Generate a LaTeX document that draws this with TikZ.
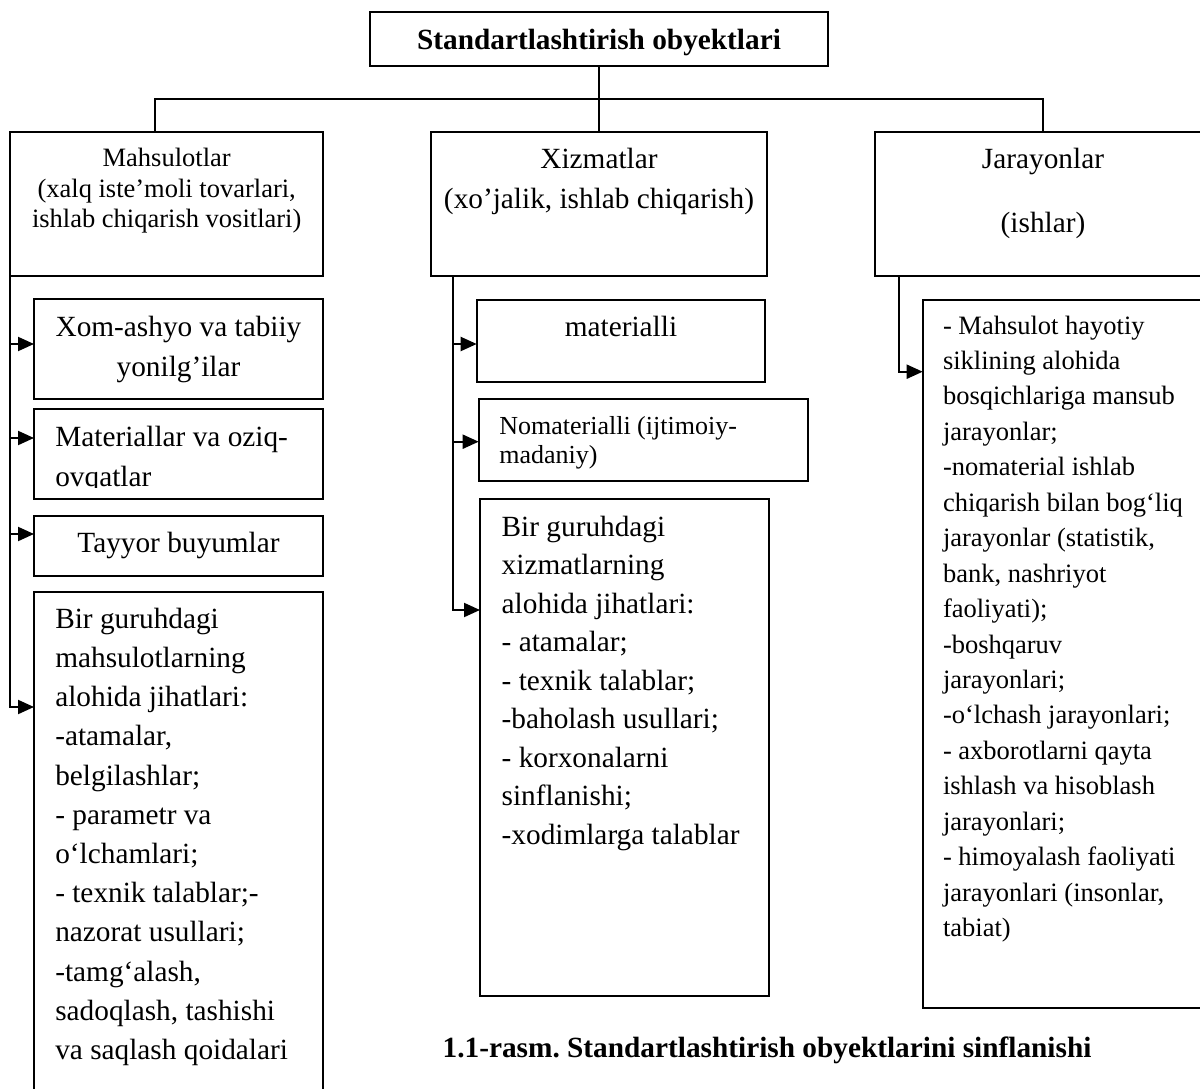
\documentclass[tikz,border=0pt]{standalone}
\usepackage{fontspec}
\setmainfont{Liberation Serif}
\usetikzlibrary{arrows.meta}
\frenchspacing
\begin{document}
\begin{tikzpicture}[x=1pt,y=-1pt,
  bx/.style={draw, line width=2pt, inner sep=0pt, outer sep=0pt, anchor=north west},
  conn/.style={line width=2pt},
  arr/.style={line width=2pt, -{Triangle[length=16pt,width=14pt]}},
  txt/.style={inner sep=0pt, outer sep=0pt},
  f14/.style={font=\fontsize{29.3}{38.5}\selectfont},
  f13/.style={font=\fontsize{26.5}{35.45}\selectfont}
]
\useasboundingbox (0,0) rectangle (1200,1089);
\clip (0,0) rectangle (1200,1089);

% top box
\node[bx, minimum width=458pt, minimum height=54pt] (top) at (370,12) {};
\node[txt, anchor=base, font=\fontsize{29.3}{35}\selectfont\bfseries] (topT) at (599,50) {Standartlashtirish obyektlari};

% second level boxes
\node[bx, minimum width=312.7pt, minimum height=144.3pt] (mah) at (10.3,131.7) {};
\node[bx, minimum width=336pt, minimum height=144.3pt] (xiz) at (431,131.7) {};
\node[bx, minimum width=336pt, minimum height=144.3pt] (jar) at (874.8,131.7) {};

\node[txt, anchor=north, align=center, font=\fontsize{26.5}{30.5}\selectfont] (mahT) at (166.7,141.7)
  {\rule{0pt}{25pt}Mahsulotlar\\(xalq iste’moli tovarlari,\\ishlab chiqarish vositlari)};
\node[txt, anchor=north, align=center, font=\fontsize{29.3}{40}\selectfont] (xizT) at (599,143)
  {\rule{0pt}{25pt}Xizmatlar\\(xo’jalik, ishlab chiqarish)};
\node[txt, anchor=north, align=center, font=\fontsize{29.3}{64}\selectfont] (jarT) at (1043,143)
  {\rule{0pt}{25pt}Jarayonlar\\(ishlar)};

% tree connectors
\coordinate (hL) at (155,99);
\coordinate (hR) at (1043,99);
\draw[conn] (top.south) -- (top.south |- xiz.north);
\draw[conn] (hL |- mah.north) -- (hL) -- (hR) -- (hR |- jar.north);

% Mahsulotlar children
\node[bx, minimum width=289.3pt, minimum height=100pt] (xom) at (34,299.3) {};
\node[bx, minimum width=289.3pt, minimum height=90pt] (mat) at (34,409.3) {};
\node[bx, minimum width=289.3pt, minimum height=60pt] (tay) at (34,515.7) {};
\node[bx, minimum width=289.3pt, minimum height=520pt] (bir) at (34,591.7) {};

\node[txt, anchor=north, align=center, font=\fontsize{29.3}{40}\selectfont] (xomT) at (178.5,311.7)
  {\rule{0pt}{25pt}Xom-ashyo va tabiiy\\yonilg’ilar};
\begin{scope}
  \clip (34,409.3) rectangle (323.3,487.5);
  \node[txt, anchor=north west, align=left, font=\fontsize{29.3}{40}\selectfont] (matT) at (55.3,421)
    {\rule{0pt}{25pt}Materiallar va oziq-\\ovqatlar};
\end{scope}
\node[txt, anchor=base, f14] (tayT) at (178.5,552.7) {Tayyor buyumlar};
\node[txt, anchor=north west, align=left, font=\fontsize{29.3}{39.2}\selectfont] (birT) at (55.3,603.3)
  {\rule{0pt}{25pt}Bir guruhdagi\\mahsulotlarning\\alohida jihatlari:\\-atamalar,\\belgilashlar;\\- parametr va\\o‘lchamlari;\\- texnik talablar;-\\nazorat usullari;\\-tamg‘alash,\\sadoqlash, tashishi\\va saqlash qoidalari};

\coordinate (a1) at (34,344);
\coordinate (a2) at (34,438);
\coordinate (a3) at (34,534);
\coordinate (a4) at (34,707);
\draw[arr] (mah.south west) |- (a4);
\draw[arr] (mah.south west |- a1) -- (a1);
\draw[arr] (mah.south west |- a2) -- (a2);
\draw[arr] (mah.south west |- a3) -- (a3);

% Xizmatlar children
\node[bx, minimum width=288.3pt, minimum height=81.7pt] (mtl) at (476.7,300) {};
\node[bx, minimum width=329.6pt, minimum height=81.7pt] (nom) at (478.7,399.3) {};
\node[bx, minimum width=288.7pt, minimum height=497pt] (bxz) at (480,498.7) {};

\node[txt, anchor=base, f14] (mtlT) at (621,336) {materialli};
\node[txt, anchor=north west, align=left, font=\fontsize{26}{29}\selectfont] (nomT) at (499.3,409)
  {\rule{0pt}{25pt}Nomaterialli (ijtimoiy-\\madaniy)};
\node[txt, anchor=north west, align=left, f14] (bxzT) at (501.7,511)
  {\rule{0pt}{25pt}Bir guruhdagi\\xizmatlarning\\alohida jihatlari:\\- atamalar;\\- texnik talablar;\\-baholash usullari;\\- korxonalarni\\sinflanishi;\\-xodimlarga talablar};

\coordinate (xs) at (452.7,276);
\coordinate (c1) at (476.7,344);
\coordinate (c2) at (478.7,441.7);
\coordinate (c3) at (480,610);
\draw[arr] (xs) |- (c3);
\draw[arr] (xs |- c1) -- (c1);
\draw[arr] (xs |- c2) -- (c2);

% Jarayonlar child
\node[bx, minimum width=300pt, minimum height=707.7pt] (jl) at (922.7,300) {};
\node[txt, anchor=north west, align=left, f13] (jlT) at (943,309)
  {\rule{0pt}{25pt}- Mahsulot hayotiy\\siklining alohida\\bosqichlariga mansub\\jarayonlar;\\-nomaterial ishlab\\chiqarish bilan bog‘liq\\jarayonlar (statistik,\\bank, nashriyot\\faoliyati);\\-boshqaruv\\jarayonlari;\\-o‘lchash jarayonlari;\\- axborotlarni qayta\\ishlash va hisoblash\\jarayonlari;\\- himoyalash faoliyati\\jarayonlari (insonlar,\\tabiat)};
\coordinate (js) at (899,276);
\coordinate (d1) at (922.7,371.7);
\draw[arr] (js) |- (d1);

% caption
\node[txt, anchor=base west, font=\fontsize{29.3}{35}\selectfont\bfseries] (cap) at (442.7,1057)
  {1.1-rasm. Standartlashtirish obyektlarini sinflanishi};
\end{tikzpicture}
\end{document}
